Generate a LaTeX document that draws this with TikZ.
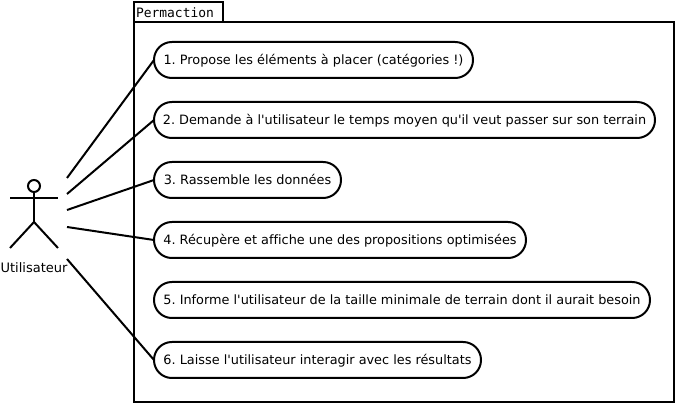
\documentclass[tikz,border=0pt]{standalone}
\usepackage{fontspec}
\newfontfamily\uifont[Ligatures=NoCommon]{DejaVu Sans}
\newfontfamily\pkgfont{DejaVu Sans Mono}
\frenchspacing
\tikzset{
  usecase/.style={draw=black,line width=2pt,fill=white,rounded corners=17.9pt,minimum height=36pt,inner sep=0pt,outer sep=0pt,anchor=west,text height=10pt,text depth=0pt,font=\uifont\fontsize{12.85}{15}\selectfont},
  link/.style={draw=black,line width=2pt},
  frameline/.style={draw=black,line width=2pt,inner sep=0pt,outer sep=0pt,anchor=north west},
}
\begin{document}
\begin{tikzpicture}[x=1pt,y=-1pt]
\useasboundingbox (0,0) rectangle (675,403);
\fill[white] (0,0) rectangle (675,403);
% free ends of the connectors, beside the actor
\coordinate (e1) at (67,178);
\coordinate (e2) at (67,194);
\coordinate (e3) at (67,210);
\coordinate (e4) at (67,227);
\coordinate (e6) at (67,259);
% package
\node[frameline,minimum width=540pt,minimum height=380pt] (pkg) at (134,22) {};
\node[frameline,minimum width=89pt,minimum height=20pt,text height=12pt,text depth=0pt,font=\pkgfont\fontsize{12.95}{15}\selectfont] (tab) at (134,2) {\hspace{-7pt}Permaction};
% use cases
\node[usecase,minimum width=319pt] (u1) at (154,60) {1. Propose les éléments à placer (catégories !)};
\node[usecase,minimum width=501pt] (u2) at (154,120) {2. Demande à l'utilisateur le temps moyen qu'il veut passer sur son terrain};
\node[usecase,minimum width=187pt] (u3) at (154,180) {3. Rassemble les données};
\node[usecase,minimum width=372pt] (u4) at (154,240) {4. Récupère et affiche une des propositions optimisées};
\node[usecase,minimum width=496pt] (u5) at (154,300) {5. Informe l'utilisateur de la taille minimale de terrain dont il aurait besoin};
\node[usecase,minimum width=327pt] (u6) at (154,360) {6. Laisse l'utilisateur interagir avec les résultats};
% connectors
\draw[link] (e1) -- (u1.west);
\draw[link] (e2) -- (u2.west);
\draw[link] (e3) -- (u3.west);
\draw[link] (e4) -- (u4.west);
\draw[link] (e6) -- (u6.west);
% actor
\node[draw=black,line width=2pt,circle,minimum size=12pt,inner sep=0pt,outer sep=0pt] (head) at (34,186) {};
\coordinate (hip) at (34,222);
\coordinate (armL) at (10,198);
\coordinate (armR) at (58,198);
\coordinate (footL) at (10,248);
\coordinate (footR) at (58,248);
\draw[link] (head.south) -- (hip);
\draw[link] (armL) -- (armR);
\draw[link] (footL) -- (hip) -- (footR);
\node[font=\uifont\fontsize{13}{15}\selectfont,inner sep=0pt,text height=10pt,text depth=0pt] (actorlabel) at (34,268) {Utilisateur};
\end{tikzpicture}
\end{document}
